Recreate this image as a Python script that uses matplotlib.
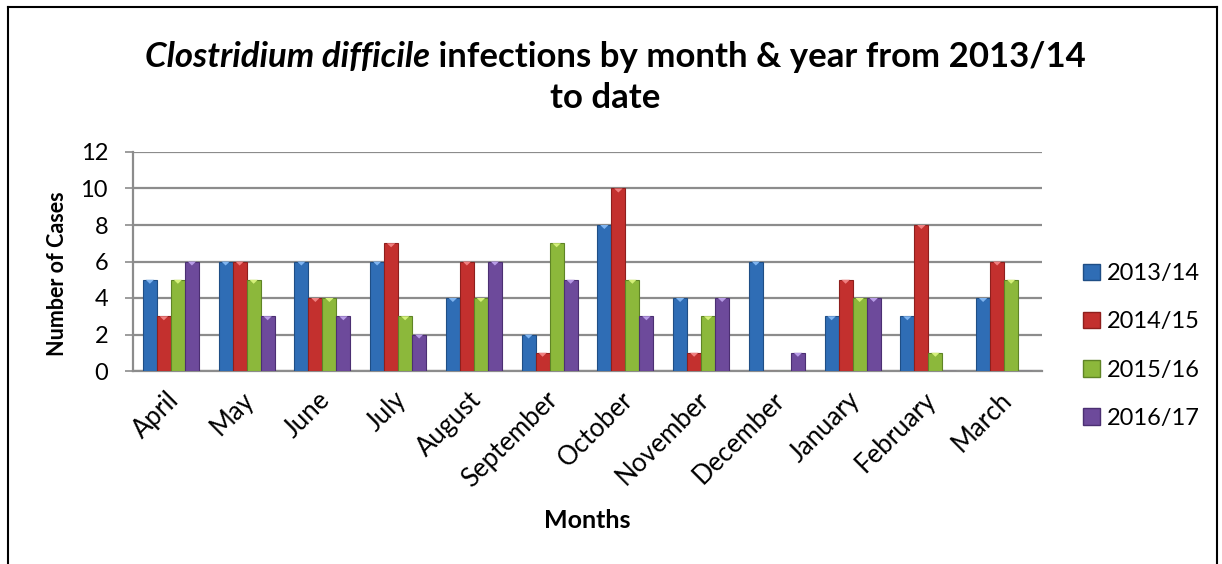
import numpy as np
import matplotlib
matplotlib.use("Agg")
import matplotlib.pyplot as plt
import matplotlib.transforms as mtransforms
from matplotlib.patches import Rectangle
from matplotlib.lines import Line2D

months = ["April", "May", "June", "July", "August", "September", "October",
          "November", "December", "January", "February", "March"]
series_names = ["2013/14", "2014/15", "2015/16", "2016/17"]
y2013 = [5, 6, 6, 6, 4, 2, 8, 4, 6, 3, 3, 4]
y2014 = [3, 6, 4, 7, 6, 1, 10, 1, 0, 5, 8, 6]
y2015 = [5, 5, 4, 3, 4, 7, 5, 3, 0, 4, 1, 5]
y2016 = [6, 3, 3, 2, 6, 5, 3, 4, 1, 4, 0, 0]
yticks = [0, 2, 4, 6, 8, 10, 12]

colors = ["#2F6DB5", "#C3302E", "#8CB83B", "#6D4A9B"]
edges = ["#1F4E85", "#8E1F1D", "#5F8426", "#4B2F72"]
tops = ["#7FB4F0", "#F08080", "#D5F07A", "#B79BE6"]

plt.rcParams['font.family'] = ['Lato', 'DejaVu Sans']

W, H = 1222, 564
fig = plt.figure(figsize=(W / 100, H / 100), dpi=100)
ax = fig.add_axes([133 / W, 1 - 371 / H, (1042 - 133) / W, (371 - 152) / H])

x = np.arange(len(months))
bw = 0.185
data = [y2013, y2014, y2015, y2016]
for i, vals in enumerate(data):
    pos = x + (i - 1.5) * bw
    ax.bar(pos, vals, width=bw, color=colors[i], edgecolor=edges[i],
           linewidth=0.8, zorder=3, label=series_names[i])
    for p, v in zip(pos, vals):
        if v > 0:
            tri = plt.Polygon([[p - bw * 0.3, v], [p + bw * 0.3, v],
                               [p, v - 0.22]], closed=True,
                              facecolor=tops[i], edgecolor='none', zorder=4)
            ax.add_patch(tri)

ax.set_xlim(-0.5, 11.5)
ax.set_ylim(0, 12)
ax.set_yticks(yticks)
ax.set_yticklabels([str(t) for t in yticks], fontsize=17)
ax.yaxis.grid(True, color="#8C8C8C", linewidth=1.6, zorder=0)
ax.set_axisbelow(True)
for s in ["top", "right"]:
    ax.spines[s].set_visible(False)
ax.spines["left"].set_color("#8C8C8C")
ax.spines["left"].set_linewidth(1.6)
ax.spines["bottom"].set_color("#8C8C8C")
ax.spines["bottom"].set_linewidth(1.6)
ax.tick_params(axis='y', length=6, width=1.2, color="#8C8C8C", pad=12)
ax.tick_params(axis='x', length=0, pad=8)
ax.set_xticks(x)
ax.set_xticklabels(months, rotation=45, ha='right', rotation_mode='anchor',
                   fontsize=18.5)
shift = mtransforms.ScaledTranslation(-5 / 100, -5 / 100, fig.dpi_scale_trans)
for lbl in ax.get_xticklabels():
    lbl.set_transform(lbl.get_transform() + shift)
ax.set_ylabel("Number of Cases", fontsize=15.5, fontweight='bold')
ax.yaxis.set_label_coords(-0.0715, 0.443)
fig.text(587 / W, 1 - 521 / H, "Months", fontsize=18, fontweight='bold',
         ha='center', va='center')

# Legend
handles = [Rectangle((0, 0), 1, 1, facecolor=colors[i], edgecolor=edges[i])
           for i in range(4)]
leg = fig.legend(handles, series_names, loc='center left',
                 bbox_to_anchor=(1083 / W, 1 - 346 / H), frameon=False,
                 fontsize=17, handlelength=0.7, handleheight=0.7,
                 handletextpad=0.3, labelspacing=1.15, borderpad=0,
                 borderaxespad=0)

# Title: mixed italic / upright, bold
ty1 = 1 - 67 / H
ty2 = 1 - 108 / H
fs_t = 25
t_it = fig.text(0, ty1, "Clostridium difficile", fontsize=fs_t,
                fontweight='bold', style='italic', ha='left', va='baseline')
t_rest = fig.text(0, ty1, " infections by month & year from 2013/14",
                  fontsize=fs_t, fontweight='bold', ha='left', va='baseline')
fig.canvas.draw()
r = fig.canvas.get_renderer()
w1 = t_it.get_window_extent(r).width
w2 = t_rest.get_window_extent(r).width
cx = 615
start = cx - (w1 + w2) / 2
t_it.set_x(start / W)
t_rest.set_x((start + w1) / W)
fig.text(605 / W, ty2, "to date", fontsize=fs_t, fontweight='bold',
         ha='center', va='baseline')

# Outer frame
fig.add_artist(Line2D([8 / W, 8 / W], [-0.1, 1 - 7 / H], color='black',
                      linewidth=1.5, transform=fig.transFigure))
fig.add_artist(Line2D([8 / W, 1217 / W], [1 - 7 / H, 1 - 7 / H],
                      color='black', linewidth=1.5, transform=fig.transFigure))
fig.add_artist(Line2D([1217 / W, 1217 / W], [-0.1, 1 - 7 / H],
                      color='black', linewidth=1.5, transform=fig.transFigure))

fig.savefig("out.png", dpi=100)
